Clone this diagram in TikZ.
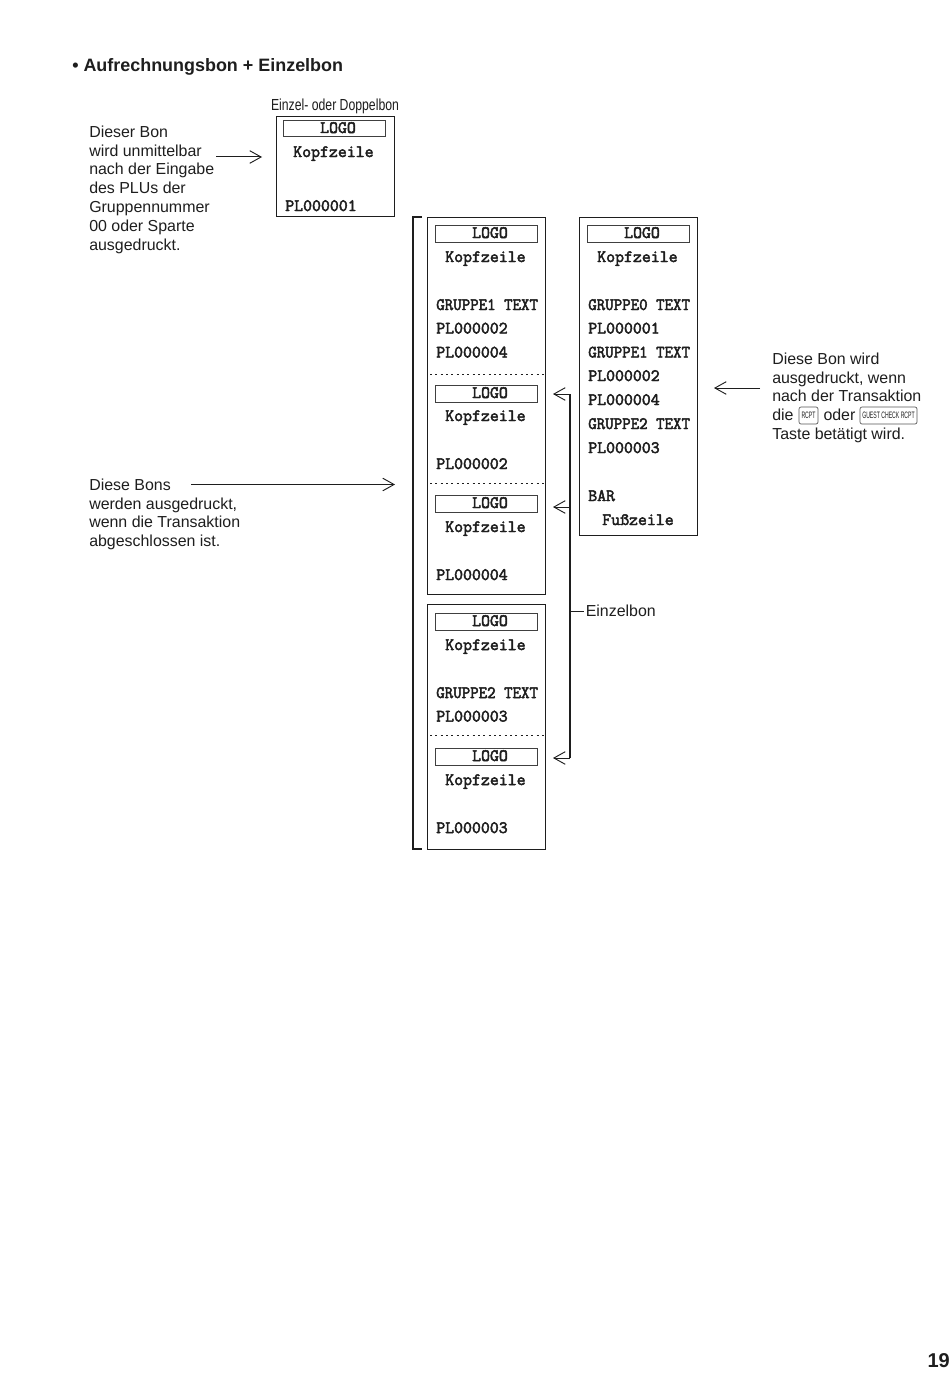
\documentclass[tikz,border=0pt]{standalone}
\usepackage{fontspec}
\usepackage{graphicx}
\setmainfont{Liberation Sans}
\usetikzlibrary{arrows.meta}
\newfontfamily\rfont{Latin Modern Mono}[Scale=1.0,FakeBold=2.8]
\definecolor{ink}{HTML}{1E1E1E}
\tikzset{
  bon/.style={draw=ink,line width=0.62pt},
  logobox/.style={draw=ink!85,line width=0.5pt},
  tear/.style={draw=ink,line width=0.7pt,dash pattern=on 1.5pt off 2.5pt},
  rline/.style={inner sep=0pt,anchor=base west,text=ink,font=\rfont\fontsize{13}{14}\selectfont},
  rlogo/.style={inner sep=0pt,anchor=base,text=ink,font=\rfont\fontsize{13}{14}\selectfont},
  note/.style={inner sep=0pt,anchor=north west,align=left,text=ink,font=\fontsize{11.95}{14.1}\selectfont},
  conn/.style={draw=ink,line width=0.75pt},
  arr/.style={conn,-{Straight Barb[length=8.5pt,width=9.5pt,line width=0.7pt]}},
  keycap/.style={draw=ink!75,line width=0.5pt,rounded corners=1.5pt},
  keytext/.style={inner sep=0pt,text=ink,font=\fontsize{7}{8}\selectfont}
}
\newcommand{\Logo}[3]{% name, top y, centre x
  \draw[logobox] (#3-54.5,#2) rectangle (#3+47.5,#2+17);
  \node[rlogo] (#1) at (#3,#2+13) {LOGO};
}
\newcommand{\Gr}[1]{\scalebox{0.95}[1]{#1}}
\begin{document}
\begin{tikzpicture}[x=0.75pt,y=-0.75pt]
\useasboundingbox (0,0) rectangle (950,1377);
\fill[white] (0,0) rectangle (950,1377);

\node[inner sep=0pt,anchor=base west,text=ink,font=\bfseries\fontsize{13.45}{16}\selectfont] (title) at (72,72) {• Aufrechnungsbon + Einzelbon};
\node[inner sep=0pt,anchor=base,text=ink] (einzeldoppel) at (335,111) {\fontsize{12}{14}\selectfont\scalebox{0.765}[1]{Einzel- oder Doppelbon}};
\node[inner sep=0pt,anchor=base east,text=ink,font=\bfseries\fontsize{15}{17}\selectfont] (page) at (950,1367) {19};

% notes
\node[note] (n1) at (89,125.5) {Dieser Bon\\wird unmittelbar\\nach der Eingabe\\des PLUs der\\Gruppennummer\\00 oder Sparte\\ausgedruckt.};
\node[note] (n2) at (89,478.5) {Diese Bons\\werden ausgedruckt,\\wenn die Transaktion\\abgeschlossen ist.};
\node[note] (n3) at (772,352.5) {Diese Bon wird\\ausgedruckt, wenn\\nach der Transaktion\\die\hspace{22.5pt}oder\hspace{48pt}\\Taste betätigt wird.};

% keys
\draw[keycap] (799,407) rectangle (818,424);
\node[keytext] (rcpt) at (808.5,415.5) {\scalebox{0.55}[1]{RCPT}};
\draw[keycap] (860,407) rectangle (917,424);
\node[keytext] (guest) at (888.5,415.5) {\scalebox{0.55}[1]{GUEST CHECK RCPT}};

% boxes
\draw[bon] (276,116) rectangle (394.5,216.5);
\draw[bon] (427,217) rectangle (545.5,594.5);
\draw[bon] (427,604) rectangle (545.5,849);
\draw[bon] (579,217) rectangle (697.5,535.5);

% box A
\draw[logobox] (283,120) rectangle (385.5,136);
\node[rlogo] (a1) at (338,133) {LOGO};
\node[rline] (a2) at (293,157) {Kopfzeile};
\node[rline] (a3) at (285,211) {PL000001};

% box B
\Logo{b1}{225}{490}
\node[rline] (b2) at (445,262) {Kopfzeile};
\node[rline] (b3) at (436,310) {\Gr{GRUPPE1 TEXT}};
\node[rline] (b4) at (436,333.5) {PL000002};
\node[rline] (b5) at (436,357.5) {PL000004};
\draw[tear] (430,374) -- (546,374);
\Logo{b6}{385}{490}
\node[rline] (b7) at (445,421) {Kopfzeile};
\node[rline] (b8) at (436,469) {PL000002};
\draw[tear] (430,483) -- (546,483);
\Logo{b9}{495}{490}
\node[rline] (b10) at (445,532) {Kopfzeile};
\node[rline] (b11) at (436,580) {PL000004};

% box C
\Logo{c1}{613}{490}
\node[rline] (c2) at (445,650) {Kopfzeile};
\node[rline] (c3) at (436,698) {\Gr{GRUPPE2 TEXT}};
\node[rline] (c4) at (436,721.5) {PL000003};
\draw[tear] (430,735) -- (546,735);
\Logo{c5}{748}{490}
\node[rline] (c6) at (445,785) {Kopfzeile};
\node[rline] (c7) at (436,833) {PL000003};

% box D
\Logo{d1}{225}{642}
\node[rline] (d2) at (597,262) {Kopfzeile};
\node[rline] (d3) at (588,310) {\Gr{GRUPPE0 TEXT}};
\node[rline] (d4) at (588,333.5) {PL000001};
\node[rline] (d5) at (588,357.5) {\Gr{GRUPPE1 TEXT}};
\node[rline] (d6) at (588,381) {PL000002};
\node[rline] (d7) at (588,405) {PL000004};
\node[rline] (d8) at (588,429) {\Gr{GRUPPE2 TEXT}};
\node[rline] (d9) at (588,453) {PL000003};
\node[rline] (d10) at (588,501) {BAR};
\node[rline] (d11) at (602,525) {Fußzeile};

% bracket
\draw[conn,line width=0.85pt] (422,217) -- (413,217) -- (413,849) -- (422,849);

% arrows
\coordinate (a1s) at (216,157); \coordinate (a1e) at (262,157);
\coordinate (a2s) at (191,484.5); \coordinate (a2e) at (395,484.5);
\coordinate (a3s) at (760,388); \coordinate (a3e) at (714,388);
\draw[arr] (a1s) -- (a1e);
\draw[arr] (a2s) -- (a2e);
\draw[arr] (a3s) -- (a3e);

% Einzelbon
\node[inner sep=0pt,anchor=base west,text=ink,font=\fontsize{11.95}{14}\selectfont] (einzel) at (585.5,616) {Einzelbon};
\coordinate (t1) at (553,394); \coordinate (t2) at (553,507); \coordinate (t3) at (553,758);
\coordinate (j1) at (570,394); \coordinate (j2) at (570,507); \coordinate (j3) at (570,758); \coordinate (j4) at (570,611); \coordinate (j5) at (584,611);
\draw[arr] (j1) -- (t1);
\draw[arr] (j2) -- (t2);
\draw[arr] (j3) -- (t3);
\draw[conn,line width=0.85pt] (j1) -- (j3);
\draw[conn] (j4) -- (j5);
\end{tikzpicture}
\end{document}
